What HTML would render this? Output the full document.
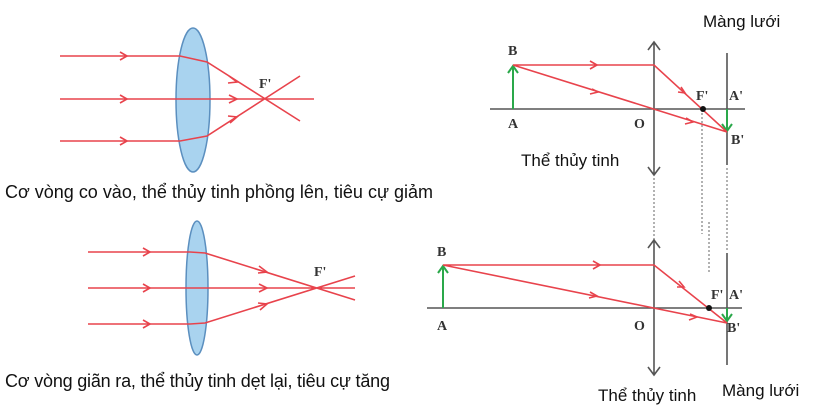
<!DOCTYPE html>
<html><head><meta charset="utf-8"><style>
html,body{margin:0;padding:0;background:#fff;}
svg{display:block;}
.cap{font-family:"Liberation Sans","DejaVu Sans",sans-serif;font-size:17px;fill:#111;}
.cap2{font-family:"Liberation Sans","DejaVu Sans",sans-serif;font-size:18px;fill:#111;}
.lbl{font-family:"Liberation Serif",serif;font-size:14px;font-weight:bold;fill:#333;}
.ray{stroke:#e8434c;stroke-width:1.6;fill:none;}
.arr{stroke:#e8434c;stroke-width:1.6;fill:none;}
.ax{stroke:#555;stroke-width:1.6;fill:none;}
.dot{stroke:#888;stroke-width:1.3;stroke-dasharray:2,2;fill:none;}
.gr{stroke:#2aa84a;stroke-width:2;fill:none;}
</style></head><body>
<svg width="834" height="408" viewBox="0 0 834 408">
<g>
<ellipse cx="193" cy="100" rx="17" ry="72" fill="#a9d3ef" stroke="#5b8fbf" stroke-width="1.5"/>
<path class="ray" d="M60 56H180L207 62L300 121M60 99H314M60 141H180L207 136L300 76"/>
<path class="arr" d="M120 52L127 56L120 60M120 95L127 99L120 103M120 137L127 141L120 145M229 76L237 82L228 83M229 95L237 99L229 103M228 116L237 117L230 123"/>
<text class="lbl" x="259" y="88">F'</text>
<text class="cap2" x="5" y="198" textLength="428">Cơ vòng co vào, thể thủy tinh phồng lên, tiêu cự giảm</text>
</g>
<g>
<ellipse cx="197" cy="288" rx="11" ry="67" fill="#a9d3ef" stroke="#5b8fbf" stroke-width="1.5"/>
<path class="ray" d="M88 252H190L205 253L355 300M88 288H355M88 324H190L205 323L355 276"/>
<path class="arr" d="M143 248L150 252L143 256M143 284L150 288L143 292M143 320L150 324L143 328M259 266L267 272L258 273M259 284L267 288L259 292M258 303L267 304L260 310"/>
<text class="lbl" x="314" y="276">F'</text>
<text class="cap2" x="5" y="387" textLength="385">Cơ vòng giãn ra, thể thủy tinh dẹt lại, tiêu cự tăng</text>
</g>
<path class="dot" d="M654 178V240M702 113V234M727 168V250M709 222V272"/>
<g>
<path class="ax" d="M490 109H745M654 42V175M648 50L654 42L660 50M648 167L654 175L660 167M727 53V165"/>
<path class="gr" d="M513 109V67M508 73L513 66L518 73M727 109V130M722 124L727 131L732 124"/>
<path class="ray" d="M513 65H654L727 132M513 65L727 132"/>
<path class="arr" d="M590 61L597 65L590 69M592 89L598 92L590 94M681 87L685 93L678 92M686 118L693 122L685 124"/>
<circle cx="703" cy="109" r="3" fill="#111"/>
<text class="lbl" x="508" y="55">B</text><text class="lbl" x="508" y="128">A</text><text class="lbl" x="634" y="128">O</text>
<text class="lbl" x="696" y="100">F'</text><text class="lbl" x="729" y="100">A'</text><text class="lbl" x="731" y="144">B'</text>
<text class="cap" x="703" y="27">Màng lưới</text>
<text class="cap" x="521" y="166">Thể thủy tinh</text>
</g>
<g>
<path class="ax" d="M427 308H742M654 240V375M648 248L654 240L660 248M648 367L654 375L660 367M727 253V365"/>
<path class="gr" d="M443 308V267M438 273L443 266L448 273M727 308V320M722 314L727 321L732 314"/>
<path class="ray" d="M443 265H654L727 323M443 265L727 323"/>
<path class="arr" d="M593 261L600 265L593 269M590 292L597 296L589 298M679 281L684 287L677 287M690 314L697 317L689 320"/>
<circle cx="709" cy="308" r="3" fill="#111"/>
<text class="lbl" x="437" y="256">B</text><text class="lbl" x="437" y="330">A</text><text class="lbl" x="634" y="330">O</text>
<text class="lbl" x="711" y="299">F'</text><text class="lbl" x="729" y="299">A'</text><text class="lbl" x="727" y="332">B'</text>
<text class="cap" x="598" y="401">Thể thủy tinh</text>
<text class="cap" x="722" y="396">Màng lưới</text>
</g>
</svg>
</body></html>
